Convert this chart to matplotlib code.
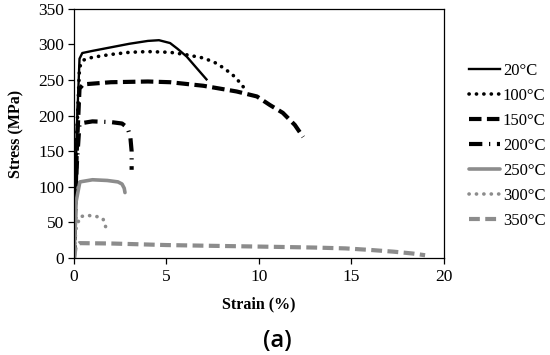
import matplotlib
matplotlib.use('Agg')
import matplotlib.pyplot as plt

# stress-strain curves, strain in %, stress in MPa
labels = ['20°C', '100°C', '150°C', '200°C', '250°C', '300°C', '350°C']

x20 = [0, 0.15, 0.3, 0.45, 1, 2, 3, 4, 4.6, 5.2, 5.6, 6.1, 6.6, 7.17]
y20 = [0, 180, 280, 288, 291, 296, 301, 305, 306, 302, 294, 283, 268, 251]

x100 = [0, 0.15, 0.3, 0.5, 1, 2, 3, 4, 5.2, 6, 7, 7.6, 8.1, 8.6, 9.0, 9.35]
y100 = [0, 170, 268, 278, 282, 286, 289, 290, 289, 286, 281, 275, 267, 257, 246, 234]

x150 = [0, 0.15, 0.3, 0.5, 2, 4, 5.2, 7, 8.8, 9.9, 10.6, 11.3, 11.95, 12.4]
y150 = [0, 150, 238, 244, 247, 248, 247, 242, 234, 227, 215, 204, 187, 170]

x200 = [0, 0.15, 0.3, 1, 2, 2.6, 2.9, 3.05, 3.12, 3.12]
y200 = [0, 130, 189, 192, 191, 189, 183, 170, 150, 124]

x250 = [0, 0.12, 0.32, 1, 1.8, 2.38, 2.6, 2.72, 2.76]
y250 = [0, 80, 107, 110, 109, 107, 104, 98, 92]

x300 = [0, 0.1, 0.32, 0.68, 1.14, 1.55, 1.7, 1.73]
y300 = [0, 40, 58, 60, 59, 56, 48, 36]

x350 = [0, 0.1, 0.3, 2, 5, 8, 10.4, 13, 14.7, 16, 17.3, 18.3, 19.0]
y350 = [0, 17, 21, 20.5, 18.3, 17, 16, 14.8, 13.6, 11.5, 9, 6.5, 4]

black = 'black'
grey = '#8c8c8c'

plt.rcParams['font.family'] = ['Liberation Serif', 'DejaVu Serif']

fig = plt.figure(figsize=(5.5, 3.55), dpi=100)
ax = fig.add_axes([0.1345, 0.273, 0.672, 0.702])

ax.plot(x20, y20, color=black, lw=1.7, label=labels[0])
ax.plot(x100, y100, color=black, lw=2.6, linestyle=(0, (0.05, 2.0)),
        dash_capstyle='round', label=labels[1])
ax.plot(x150, y150, color=black, lw=3.0, linestyle=(0, (3.0, 1.3)), label=labels[2])
ax.plot(x200, y200, color=black, lw=3.0, linestyle=(0, (3.2, 1.6, 0.3, 1.6)),
        label=labels[3])
ax.plot(x250, y250, color=grey, lw=2.6, solid_capstyle='round', label=labels[4])
ax.plot(x300, y300, color=grey, lw=2.6, linestyle=(0, (0.05, 2.0)),
        dash_capstyle='round', label=labels[5])
ax.plot(x350, y350, color=grey, lw=3.0, linestyle=(0, (2.6, 1.3)), label=labels[6])

ax.set_xlim(0, 20)
ax.set_ylim(0, 350)
ax.set_xticks([0, 5, 10, 15, 20])
ax.set_yticks(range(0, 351, 50))
ax.tick_params(labelsize=12.5, length=4, width=0.9, pad=4)
ax.tick_params(axis='y', pad=3)
for sp in ax.spines.values():
    sp.set_linewidth(0.9)

ax.set_xlabel('Strain (%)', fontsize=11.5, fontweight='bold', labelpad=8)
ax.set_ylabel('Stress (MPa)', fontsize=11.5, fontweight='bold', labelpad=10)

ax.legend(loc='upper left', bbox_to_anchor=(1.05, 0.81), frameon=False,
          fontsize=12, handlelength=1.9, handletextpad=0.15, labelspacing=0.54,
          borderaxespad=0)

fig.text(0.504, 0.04, '(a)', fontsize=17, family=['Open Sans', 'DejaVu Sans'],
         fontweight='semibold', ha='center', va='center')

fig.savefig('out.png', dpi=100)
